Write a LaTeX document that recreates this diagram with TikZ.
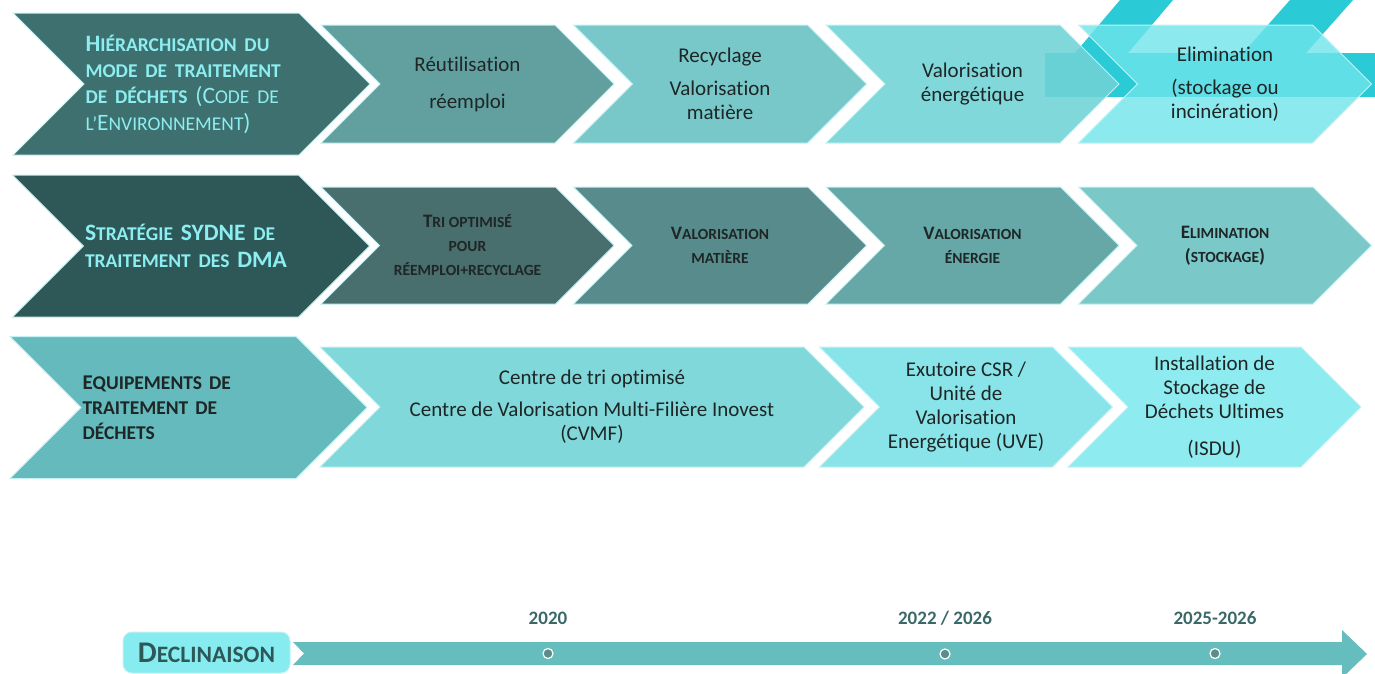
\documentclass[tikz,border=0pt]{standalone}
\usepackage{fontspec}
\setmainfont{Carlito}[Ligatures=NoCommon]
\usetikzlibrary{shapes.symbols,positioning}

\definecolor{r1a}{RGB}{62,112,112}
\definecolor{r1b}{RGB}{98,160,160}
\definecolor{r1c}{RGB}{120,200,202}
\definecolor{r1d}{RGB}{112,211,213}
\definecolor{r1e}{RGB}{111,229,234}
\definecolor{r2a}{RGB}{46,88,88}
\definecolor{r2b}{RGB}{72,110,110}
\definecolor{r2c}{RGB}{88,140,140}
\definecolor{r2d}{RGB}{102,168,168}
\definecolor{r2e}{RGB}{122,200,200}
\definecolor{r3a}{RGB}{100,186,188}
\definecolor{r3b}{RGB}{128,216,218}
\definecolor{r3c}{RGB}{136,228,232}
\definecolor{r3d}{RGB}{142,236,240}
\definecolor{band}{RGB}{42,202,214}
\definecolor{glow}{RGB}{196,242,244}
\definecolor{headtxt}{RGB}{140,238,240}
\definecolor{ink}{RGB}{30,38,38}
\definecolor{bar}{RGB}{102,189,189}
\definecolor{decl}{RGB}{134,236,240}
\definecolor{year}{RGB}{58,104,104}
\definecolor{dot}{RGB}{92,140,140}

% fake small caps
\def\scsz{15}
\newcommand\sm[1]{{\fontsize{\scsz}{\scsz}\selectfont #1}}

\tikzset{
  chev/.style={signal, signal to=east, signal from=west, signal pointer angle=90,
    inner sep=0pt, outer sep=0pt, draw=glow, line width=1pt,
    minimum width=293pt, minimum height=118pt, align=center, text=ink,
    font=\fontsize{21}{24}\selectfont},
  head/.style={chev, minimum width=357pt, minimum height=142pt, text width=212pt, align=left,
    font=\fontsize{23.5}{26.3}\selectfont\def\scsz{19.5}},
  capsbox/.style={font=\fontsize{19}{24}\selectfont\bfseries\def\scsz{15.5}},
  yearlbl/.style={inner sep=0pt, text=year, font=\fontsize{19}{21}\selectfont\bfseries},
  tick/.style={circle, fill=dot, draw=white, line width=1.2pt, minimum size=10pt, inner sep=0pt}
}

\begin{document}
\begin{tikzpicture}[x=1pt,y=-1pt]
\useasboundingbox (0,0) rectangle (1375,673);
% bands behind the last arrows
\fill[band] (1120,0) -- (1173,0) -- (1128,53) -- (1075,53) -- cycle;
\fill[band] (1290,0) -- (1353,0) -- (1306,53) -- (1243,53) -- cycle;
\fill[band] (1045,53) rectangle (1375,97);

\node[head, fill=r1a, text=headtxt] (h1) at (191.5,84) {\textbf{H\sm{IÉRARCHISATION DU}}\\ \textbf{\sm{MODE DE TRAITEMENT}}\\ \textbf{\sm{DE DÉCHETS}} (C\sm{ODE DE}\\ \sm{L’}E\sm{NVIRONNEMENT})};
\node[chev, fill=r1b] (p1) at (467.5,84) {Réutilisation\\[13pt] réemploi};
\node[chev, fill=r1c, xshift=252.5pt] (p2) at (p1) {Recyclage\\[9pt] Valorisation\\ matière};
\node[chev, fill=r1d, fill opacity=0.88, text opacity=1, xshift=252.5pt] (p3) at (p2) {Valorisation\\ énergétique};
\node[chev, fill=r1e, fill opacity=0.8, text opacity=1, xshift=252.5pt] (p4) at (p3) {Elimination\\[9pt] (stockage ou\\ incinération)};

\node[head, fill=r2a, text=headtxt, font=\fontsize{23.5}{26.5}\selectfont\bfseries\def\scsz{19.5}] (h2) at (191,246) {S\sm{TRATÉGIE} SYDNE \sm{DE}\\ \sm{TRAITEMENT DES} DMA};
\node[chev, capsbox, fill=r2b, minimum height=117pt] (s1) at (467.5,245.5) {T\sm{RI OPTIMISÉ}\\ \sm{POUR}\\ \sm{RÉEMPLOI+RECYCLAGE}};
\node[chev, capsbox, fill=r2c, minimum height=117pt, xshift=252.5pt] (s2) at (s1) {V\sm{ALORISATION}\\ \sm{MATIÈRE}};
\node[chev, capsbox, fill=r2d, minimum height=117pt, xshift=252.5pt] (s3) at (s2) {V\sm{ALORISATION}\\ \sm{ÉNERGIE}};
\node[chev, capsbox, fill=r2e, minimum height=117pt, xshift=252.5pt] (s4) at (s3) {E\sm{LIMINATION}\\ (\sm{STOCKAGE})};

\node[head, fill=r3a, font=\fontsize{21}{25}\selectfont\bfseries\def\scsz{19.5}] (h3) at (188.5,407.5) {E\sm{QUIPEMENTS DE}\\ \sm{TRAITEMENT DE}\\ \sm{DÉCHETS}};
\node[chev, fill=r3b, minimum width=544pt, minimum height=120pt] (e1) at (592,407) {Centre de tri optimisé\\[8pt] Centre de Valorisation Multi-Filière Inovest\\ (CVMF)};
\node[chev, fill=r3c, minimum height=120pt, xshift=374pt] (e2) at (e1) {Exutoire CSR /\\ Unité de\\ Valorisation\\ Energétique (UVE)};
\node[chev, fill=r3d, minimum height=120pt, xshift=248.5pt] (e3) at (e2) {Installation de\\ Stockage de\\ Déchets Ultimes\\[13pt] (ISDU)};

% timeline
\fill[bar] (293,642) -- (1342,642) -- (1342,630) -- (1367,654) -- (1342,678) -- (1342,665) -- (293,665) -- (304,653.5) -- cycle;
\node[rounded corners=9pt, fill=decl, draw=glow, line width=1pt, minimum width=167pt, minimum height=41pt, text=r2a, font=\fontsize{30}{32}\selectfont\bfseries\def\scsz{23.5}] (d) at (206.5,652.5) {D\sm{ECLINAISON}};
\node[tick] (t1) at (548,653.5) {};
\node[tick] (t2) at (945,654) {};
\node[tick] (t3) at (1215,653.5) {};
\node[yearlbl, above=23pt of t1] (y1) {2020};
\node[yearlbl, above=23pt of t2] (y2) {2022 / 2026};
\node[yearlbl, above=23pt of t3] (y3) {2025-2026};
\end{tikzpicture}
\end{document}
